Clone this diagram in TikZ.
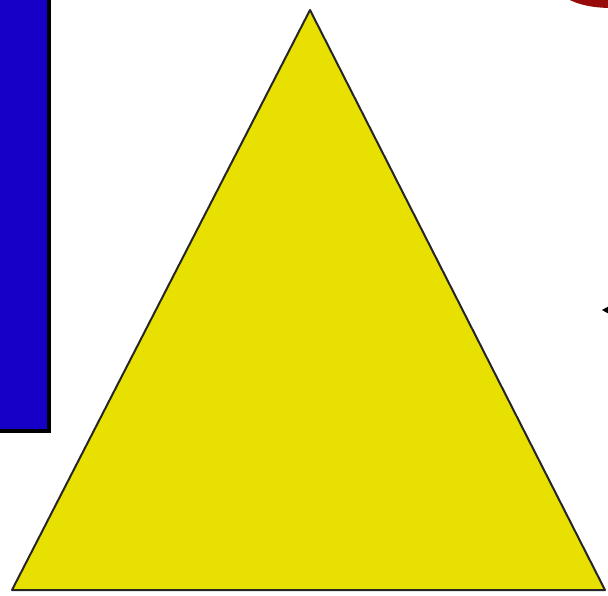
\documentclass[tikz,border=0pt]{standalone}
\definecolor{myblue}{RGB}{22,0,200}
\definecolor{myyellow}{RGB}{232,224,0}
\definecolor{mydarkred}{RGB}{150,10,10}
\begin{document}
\begin{tikzpicture}[x=1pt,y=-1pt]
\useasboundingbox (0,0) rectangle (608,595);
\fill[white] (0,0) rectangle (608,595);
% blue bar
\fill[myblue] (-5,-5) rectangle (50,430);
\draw[black,line width=3.5pt] (49,-5) -- (49,431) -- (-5,431);
% triangle
\coordinate (apex) at (310,10);
\coordinate (bl) at (12,590);
\coordinate (br) at (605,590);
\filldraw[fill=myyellow,draw=black!85,line width=2pt,line join=round] (apex) -- (br) -- (bl) -- cycle;
% red shape at top right
\fill[mydarkred] (566,-2) .. controls (578,5) and (594,8) .. (612,8) -- (612,-2) -- cycle;
% arrowhead at right edge
\fill[black] (602,310) -- (611,305) -- (611,315) -- cycle;
\end{tikzpicture}
\end{document}
